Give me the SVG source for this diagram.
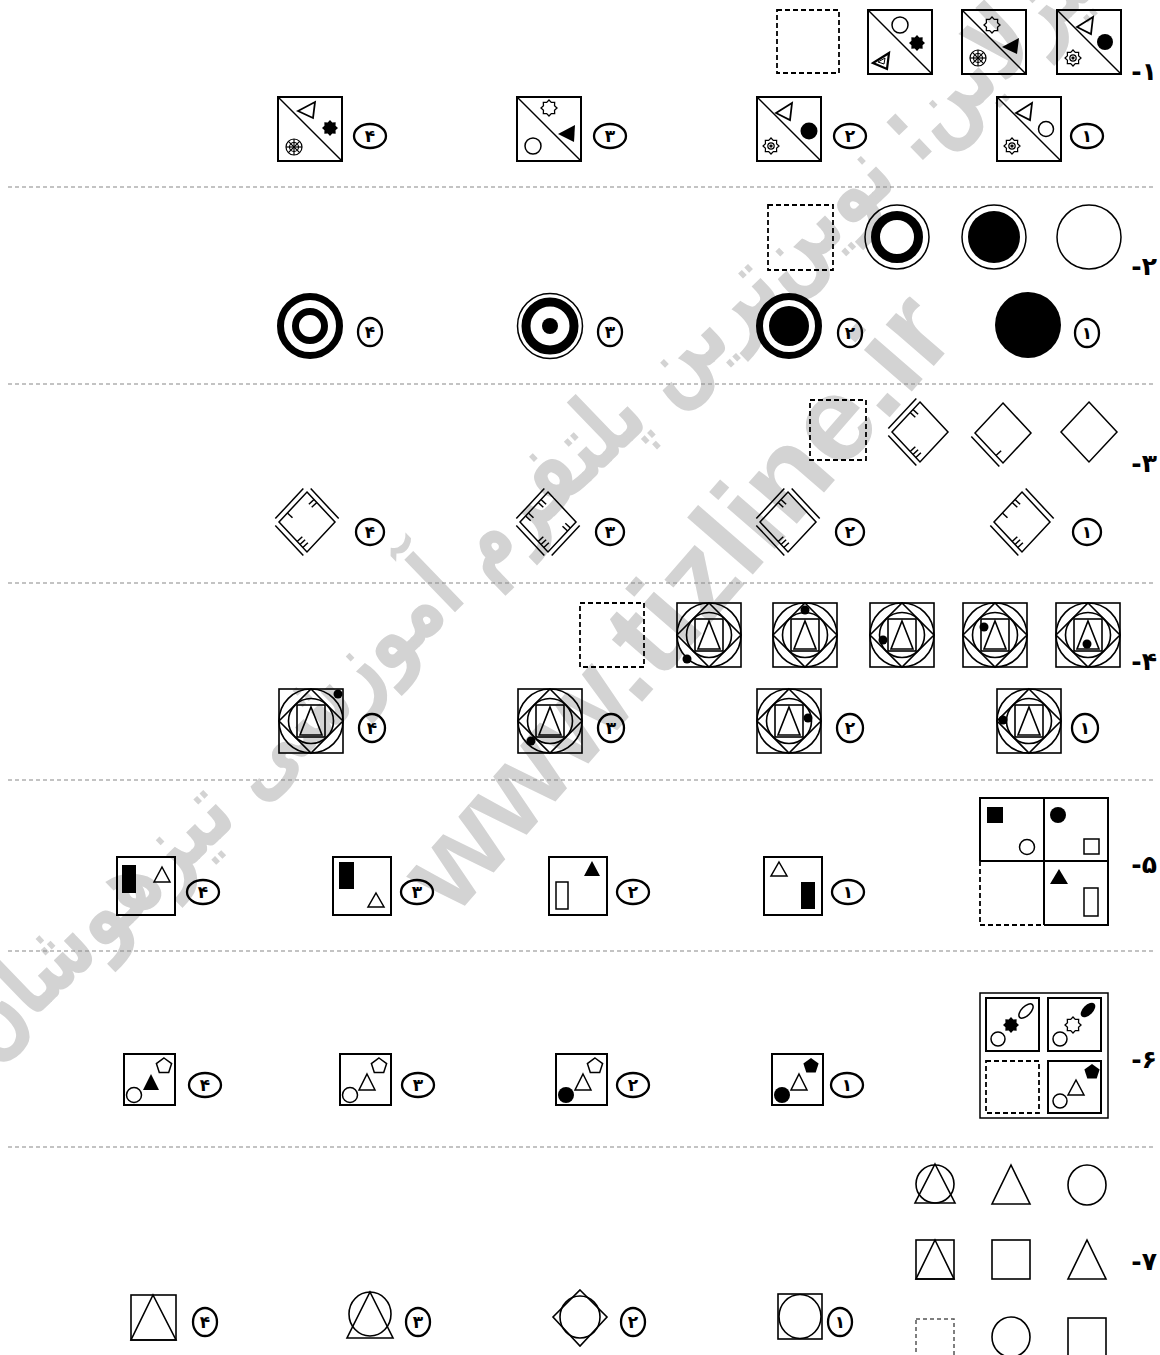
<svg xmlns="http://www.w3.org/2000/svg" xmlns:xlink="http://www.w3.org/1999/xlink" width="1160" height="1355" viewBox="0 0 1160 1355">
<style>
.ln{fill:none;stroke:#000;stroke-width:2}
.th{fill:none;stroke:#000;stroke-width:1.5}
.bk{fill:#000;stroke:none}
.dash{fill:none;stroke:#000;stroke-width:1.8;stroke-dasharray:5 3}
.sep{fill:none;stroke:#888;stroke-width:1.2;stroke-dasharray:4 3}
.lab ellipse{fill:none;stroke:#000;stroke-width:2.3}
.lab text{font-family:"DejaVu Sans",sans-serif;font-size:17px;font-weight:bold;text-anchor:middle}
.num{font-family:"DejaVu Sans",sans-serif;font-size:25px;font-weight:bold;text-anchor:end}
.wm{font-family:"DejaVu Sans",sans-serif;font-weight:bold;fill:#d3d3d3;text-anchor:middle}
.wm2{font-family:"Liberation Sans",sans-serif;font-weight:bold;fill:#d3d3d3;text-anchor:middle}
.r7{fill:none;stroke:#000;stroke-width:1.6}
</style>
<defs>
<path id="star" d="M8,0 L5.54,2.3 L5.66,5.66 L2.3,5.54 L0,8 L-2.3,5.54 L-5.66,5.66 L-5.54,2.3 L-8,0 L-5.54,-2.3 L-5.66,-5.66 L-2.3,-5.54 L0,-8 L2.3,-5.54 L5.66,-5.66 L5.54,-2.3 Z"/>
<polygon id="pent" points="0,-8 7.61,-2.47 4.7,6.47 -4.7,6.47 -7.61,-2.47"/>
<g id="gear" fill="none" stroke="#000" stroke-width="1.2">
<use href="#star"/>
<circle r="3.2"/>
<circle r="1" fill="#000"/>
</g>
<g id="wheel" fill="none" stroke="#000" stroke-width="1.2">
<circle r="8"/>
<circle r="4.5"/>
<line x1="-8" y1="0" x2="8" y2="0"/>
<line x1="0" y1="-8" x2="0" y2="8"/>
<line x1="-5.6" y1="-5.6" x2="5.6" y2="5.6"/>
<line x1="-5.6" y1="5.6" x2="5.6" y2="-5.6"/>
</g>
<polygon id="dia" points="0,-30 28,0 0,30 -28,0" fill="none" stroke="#000" stroke-width="1.5"/>
<g id="nest" fill="none" stroke="#000" stroke-width="1.6">
<rect x="-32" y="-32" width="64" height="64"/>
<circle r="32"/>
<polygon points="0,-32 32,0 0,32 -32,0"/>
<circle r="22.5"/>
<rect x="-14" y="-16" width="28" height="32"/>
<polygon points="0,-14 11,14 -11,14"/>
</g>
</defs>

<g id="watermark">
<text class="wm" font-size="96" transform="translate(528,497) rotate(-44)" y="32" textLength="1560" lengthAdjust="spacingAndGlyphs">تیزلاین: نوین‌ترین پلتفرم آموزشی تیزهوشان</text>
<text class="wm2" font-size="120" transform="translate(675,600) rotate(-49)" y="42" textLength="770" lengthAdjust="spacingAndGlyphs">www.tizline.ir</text>
</g>

<g id="separators">
<line class="sep" x1="8" y1="187" x2="1155" y2="187"/>
<line class="sep" x1="8" y1="384" x2="1155" y2="384"/>
<line class="sep" x1="8" y1="583" x2="1155" y2="583"/>
<line class="sep" x1="8" y1="780" x2="1155" y2="780"/>
<line class="sep" x1="8" y1="951" x2="1155" y2="951"/>
<line class="sep" x1="8" y1="1147" x2="1155" y2="1147"/>
</g>

<!-- Row 1 -->
<text class="num" x="1157" y="80">-۱</text>
<g id="q1-a">
<rect class="ln" x="1057" y="10" width="64" height="64"/>
<line class="th" x1="1057" y1="10" x2="1121" y2="74"/>
<polygon points="1077,27 1093,17 1091,34" fill="none" stroke="#000" stroke-width="1.8"/>
<circle class="bk" cx="1105" cy="42" r="8"/>
<use href="#gear" x="1073" y="58"/>
</g>
<g id="q1-b">
<rect class="ln" x="962" y="10" width="64" height="64"/>
<line class="th" x1="962" y1="10" x2="1026" y2="74"/>
<use href="#star" x="992" y="25" fill="none" stroke="#000" stroke-width="1.3"/>
<polygon class="bk" points="1002,47 1019,38 1017,54"/>
<use href="#wheel" x="978" y="58"/>
</g>
<g id="q1-c">
<rect class="ln" x="868" y="10" width="64" height="64"/>
<line class="th" x1="868" y1="10" x2="932" y2="74"/>
<circle class="th" cx="900" cy="25" r="8"/>
<use href="#star" x="917" y="43" fill="#000"/>
<polygon points="873,63 889,53 887,69" fill="none" stroke="#000" stroke-width="2.2"/>
<polygon points="878,62 885,58 884,64" fill="none" stroke="#000" stroke-width="1"/>
</g>
<g id="q1-blank"><rect class="dash" x="777" y="10" width="62" height="63"/></g>

<g id="q1-o1">
<rect class="ln" x="997" y="97" width="64" height="64"/>
<line class="th" x1="997" y1="97" x2="1061" y2="161"/>
<polygon points="1016,113 1032,103 1030,120" fill="none" stroke="#000" stroke-width="1.8"/>
<circle class="th" cx="1046" cy="129" r="7.5"/>
<use href="#gear" x="1012" y="146"/>
</g>
<g id="q1-o2">
<rect class="ln" x="757" y="97" width="64" height="64"/>
<line class="th" x1="757" y1="97" x2="821" y2="161"/>
<polygon points="776,113 792,103 790,120" fill="none" stroke="#000" stroke-width="1.8"/>
<circle class="bk" cx="809" cy="131" r="8.5"/>
<use href="#gear" x="771" y="146"/>
</g>
<g id="q1-o3">
<rect class="ln" x="517" y="97" width="64" height="64"/>
<line class="th" x1="517" y1="97" x2="581" y2="161"/>
<use href="#star" x="549" y="108" fill="none" stroke="#000" stroke-width="1.3"/>
<polygon class="bk" points="558,134 575,125 574,142"/>
<circle class="th" cx="533" cy="146" r="8"/>
</g>
<g id="q1-o4">
<rect class="ln" x="278" y="97" width="64" height="64"/>
<line class="th" x1="278" y1="97" x2="342" y2="161"/>
<polygon points="298,111 315,102 313,118" fill="none" stroke="#000" stroke-width="1.8"/>
<use href="#star" x="330" y="128" fill="#000"/>
<use href="#wheel" x="294" y="147"/>
</g>
<g class="lab" transform="translate(1087,136)"><ellipse rx="16" ry="12"/><text y="6">۱</text></g>
<g class="lab" transform="translate(850,136)"><ellipse rx="16" ry="12"/><text y="6">۲</text></g>
<g class="lab" transform="translate(610,136)"><ellipse rx="16" ry="12"/><text y="6">۳</text></g>
<g class="lab" transform="translate(370,136)"><ellipse rx="16" ry="12"/><text y="6">۴</text></g>

<!-- Row 2 -->
<text class="num" x="1157" y="275">-۲</text>
<g id="q2-a"><circle class="th" cx="1089" cy="237" r="32"/></g>
<g id="q2-b"><circle class="th" cx="994" cy="237" r="32"/><circle class="bk" cx="994" cy="237" r="26"/></g>
<g id="q2-c"><circle class="th" cx="897" cy="237" r="32"/><circle cx="897" cy="237" r="21.5" fill="none" stroke="#000" stroke-width="9"/></g>
<g id="q2-blank"><rect class="dash" x="768" y="205" width="65" height="65"/></g>
<g id="q2-o1"><circle class="bk" cx="1028" cy="325" r="33"/></g>
<g id="q2-o2"><circle cx="789" cy="326" r="29.5" fill="none" stroke="#000" stroke-width="7"/><circle class="bk" cx="789" cy="326" r="20"/></g>
<g id="q2-o3"><circle class="th" cx="550" cy="326" r="32.5"/><circle cx="550" cy="326" r="24" fill="none" stroke="#000" stroke-width="9"/><circle class="bk" cx="550" cy="326" r="8"/></g>
<g id="q2-o4"><circle cx="310" cy="326" r="29.5" fill="none" stroke="#000" stroke-width="7"/><circle cx="310" cy="326" r="14.5" fill="none" stroke="#000" stroke-width="7"/></g>
<g class="lab" transform="translate(1087,333)"><ellipse rx="12" ry="14"/><text y="6">۱</text></g>
<g class="lab" transform="translate(850,333)"><ellipse rx="12" ry="14"/><text y="6">۲</text></g>
<g class="lab" transform="translate(610,332)"><ellipse rx="12" ry="14"/><text y="6">۳</text></g>
<g class="lab" transform="translate(370,332)"><ellipse rx="12" ry="14"/><text y="6">۴</text></g>

<!-- Row 3 -->
<text class="num" x="1157" y="472">-۳</text>
<g id="q3-a" transform="translate(1089,432)"><use href="#dia"/></g>
<g id="q3-b" transform="translate(1003,433)" fill="none" stroke="#000" stroke-width="1.5">
<use href="#dia"/>
<line x1="-3.7" y1="33.4" x2="-31.7" y2="3.4"/>
<line x1="-7" y1="22.5" x2="-1.9" y2="17.7"/>
</g>
<g id="q3-c" transform="translate(920,432)" fill="none" stroke="#000" stroke-width="1.5">
<use href="#dia"/>
<line x1="-31.7" y1="-3.4" x2="-3.7" y2="-33.4"/>
<line x1="-3.7" y1="33.4" x2="-31.7" y2="3.4"/>
<line x1="-7" y1="-22.5" x2="-1.9" y2="-17.7"/>
<line x1="-9.8" y1="-19.5" x2="-4.7" y2="-14.7"/>
<line x1="-4.2" y1="25.5" x2="0.9" y2="20.7"/>
<line x1="-7" y1="22.5" x2="-1.9" y2="17.7"/>
<line x1="-9.8" y1="19.5" x2="-4.7" y2="14.7"/>
</g>
<g id="q3-blank"><rect class="dash" x="810" y="400" width="56" height="60"/></g>

<g id="q3-o1" transform="translate(1022,522)" fill="none" stroke="#000" stroke-width="1.5">
<use href="#dia"/>
<line x1="3.7" y1="-33.4" x2="31.7" y2="-3.4"/>
<line x1="-3.7" y1="33.4" x2="-31.7" y2="3.4"/>
<line x1="-7" y1="-22.5" x2="-1.9" y2="-17.7"/>
<line x1="-9.8" y1="-19.5" x2="-4.7" y2="-14.7"/>
<line x1="-19.6" y1="-9" x2="-14.5" y2="-4.2"/>
<line x1="-4.2" y1="25.5" x2="0.9" y2="20.7"/>
<line x1="-7" y1="22.5" x2="-1.9" y2="17.7"/>
<line x1="-9.8" y1="19.5" x2="-4.7" y2="14.7"/>
</g>
<g id="q3-o2" transform="translate(788,522)" fill="none" stroke="#000" stroke-width="1.5">
<use href="#dia"/>
<line x1="3.7" y1="-33.4" x2="31.7" y2="-3.4"/>
<line x1="-3.7" y1="33.4" x2="-31.7" y2="3.4"/>
<line x1="-31.7" y1="-3.4" x2="-3.7" y2="-33.4"/>
<line x1="-7" y1="-22.5" x2="-1.9" y2="-17.7"/>
<line x1="-9.8" y1="-19.5" x2="-4.7" y2="-14.7"/>
<line x1="-4.2" y1="25.5" x2="0.9" y2="20.7"/>
<line x1="-7" y1="22.5" x2="-1.9" y2="17.7"/>
<line x1="-9.8" y1="19.5" x2="-4.7" y2="14.7"/>
</g>
<g id="q3-o3" transform="translate(548,522)" fill="none" stroke="#000" stroke-width="1.5">
<use href="#dia"/>
<line x1="-31.7" y1="-3.4" x2="-3.7" y2="-33.4"/>
<line x1="-3.7" y1="33.4" x2="-31.7" y2="3.4"/>
<line x1="31.7" y1="3.4" x2="3.7" y2="33.4"/>
<line x1="-7" y1="-22.5" x2="-1.9" y2="-17.7"/>
<line x1="-9.8" y1="-19.5" x2="-4.7" y2="-14.7"/>
<line x1="-19.6" y1="-9" x2="-14.5" y2="-4.2"/>
<line x1="-22.4" y1="-6" x2="-17.3" y2="-1.2"/>
<line x1="-4.2" y1="25.5" x2="0.9" y2="20.7"/>
<line x1="-7" y1="22.5" x2="-1.9" y2="17.7"/>
<line x1="-9.8" y1="19.5" x2="-4.7" y2="14.7"/>
<line x1="22.4" y1="6" x2="17.3" y2="1.2"/>
<line x1="19.6" y1="9" x2="14.5" y2="4.2"/>
</g>
<g id="q3-o4" transform="translate(307,522)" fill="none" stroke="#000" stroke-width="1.5">
<use href="#dia"/>
<line x1="-31.7" y1="-3.4" x2="-3.7" y2="-33.4"/>
<line x1="3.7" y1="-33.4" x2="31.7" y2="-3.4"/>
<line x1="-3.7" y1="33.4" x2="-31.7" y2="3.4"/>
<line x1="7" y1="-22.5" x2="1.9" y2="-17.7"/>
<line x1="9.8" y1="-19.5" x2="4.7" y2="-14.7"/>
<line x1="-19.6" y1="-9" x2="-14.5" y2="-4.2"/>
<line x1="-4.2" y1="25.5" x2="0.9" y2="20.7"/>
<line x1="-7" y1="22.5" x2="-1.9" y2="17.7"/>
<line x1="-9.8" y1="19.5" x2="-4.7" y2="14.7"/>
</g>
<g class="lab" transform="translate(1087,532)"><ellipse rx="14" ry="13"/><text y="6">۱</text></g>
<g class="lab" transform="translate(850,532)"><ellipse rx="14" ry="13"/><text y="6">۲</text></g>
<g class="lab" transform="translate(610,532)"><ellipse rx="14" ry="13"/><text y="6">۳</text></g>
<g class="lab" transform="translate(370,532)"><ellipse rx="14" ry="13"/><text y="6">۴</text></g>

<!-- Row 4 -->
<text class="num" x="1157" y="670">-۴</text>
<g id="q4-a"><use href="#nest" x="1088" y="635"/><circle class="bk" cx="1087" cy="644" r="4.5"/></g>
<g id="q4-b"><use href="#nest" x="995" y="635"/><circle class="bk" cx="984" cy="627" r="4.5"/></g>
<g id="q4-c"><use href="#nest" x="902" y="635"/><circle class="bk" cx="883" cy="640" r="4.5"/></g>
<g id="q4-d"><use href="#nest" x="805" y="635"/><circle class="bk" cx="805" cy="610" r="4.5"/></g>
<g id="q4-e"><use href="#nest" x="709" y="635"/><circle class="bk" cx="687" cy="659" r="4.5"/></g>
<g id="q4-blank"><rect class="dash" x="580" y="603" width="64" height="64"/></g>
<g id="q4-o1"><use href="#nest" x="1029" y="721"/><circle class="bk" cx="1003" cy="720" r="4.5"/></g>
<g id="q4-o2"><use href="#nest" x="789" y="721"/><circle class="bk" cx="808" cy="718" r="4.5"/></g>
<g id="q4-o3"><use href="#nest" x="550" y="721"/><circle class="bk" cx="531" cy="741" r="4.5"/></g>
<g id="q4-o4"><use href="#nest" x="311" y="721"/><circle class="bk" cx="338" cy="694" r="4.5"/></g>
<g class="lab" transform="translate(1085,728)"><ellipse rx="13" ry="14"/><text y="6">۱</text></g>
<g class="lab" transform="translate(850,728)"><ellipse rx="13" ry="14"/><text y="6">۲</text></g>
<g class="lab" transform="translate(611,728)"><ellipse rx="13" ry="14"/><text y="6">۳</text></g>
<g class="lab" transform="translate(372,728)"><ellipse rx="13" ry="14"/><text y="6">۴</text></g>

<!-- Row 5 -->
<text class="num" x="1157" y="873">-۵</text>
<g id="q5-grid">
<path class="ln" d="M980,861 L980,798 L1108,798 L1108,925 L1044,925 M1044,798 L1044,925 M980,861 L1108,861"/>
<path class="dash" d="M980,861 L980,925 L1044,925"/>
<rect class="bk" x="987" y="807" width="16" height="16"/>
<circle class="th" cx="1027" cy="847" r="7.5"/>
<circle class="bk" cx="1058" cy="815" r="8"/>
<rect class="th" x="1084" y="839" width="15" height="15"/>
<polygon class="bk" points="1059,869 1068,884 1050,884"/>
<rect class="th" x="1084" y="888" width="14" height="28"/>
</g>
<g id="q5-o1">
<rect class="ln" x="764" y="857" width="58" height="58"/>
<polygon class="th" points="779,862 787,876 771,876"/>
<rect class="bk" x="801" y="882" width="14" height="27"/>
</g>
<g id="q5-o2">
<rect class="ln" x="549" y="857" width="58" height="58"/>
<polygon class="bk" points="592,861 600,876 584,876"/>
<rect class="th" x="556" y="882" width="12" height="27"/>
</g>
<g id="q5-o3">
<rect class="ln" x="333" y="857" width="58" height="58"/>
<rect class="bk" x="339" y="862" width="15" height="27"/>
<polygon class="th" points="376,893 384,907 368,907"/>
</g>
<g id="q5-o4">
<rect class="ln" x="117" y="857" width="58" height="58"/>
<rect class="bk" x="122" y="865" width="14" height="28"/>
<polygon class="th" points="162,867 170,882 154,882"/>
</g>
<g class="lab" transform="translate(848,892)"><ellipse rx="16" ry="12"/><text y="6">۱</text></g>
<g class="lab" transform="translate(633,892)"><ellipse rx="16" ry="12"/><text y="6">۲</text></g>
<g class="lab" transform="translate(417,892)"><ellipse rx="16" ry="12"/><text y="6">۳</text></g>
<g class="lab" transform="translate(203,892)"><ellipse rx="16" ry="12"/><text y="6">۴</text></g>

<!-- Row 6 -->
<text class="num" x="1157" y="1068">-۶</text>
<g id="q6-grid">
<rect class="th" x="980" y="993" width="128" height="125"/>
<rect class="ln" x="986" y="998" width="53" height="53"/>
<rect class="ln" x="1048" y="998" width="53" height="53"/>
<rect class="dash" x="986" y="1061" width="53" height="52"/>
<rect class="ln" x="1048" y="1061" width="53" height="52"/>
<circle class="th" cx="998" cy="1039" r="7"/>
<use href="#star" x="1011" y="1025" fill="#000"/>
<ellipse class="th" cx="1026" cy="1011" rx="9" ry="4.5" transform="rotate(-45 1026 1011)"/>
<circle class="th" cx="1060" cy="1039" r="7"/>
<use href="#star" x="1073" y="1025" fill="none" stroke="#000" stroke-width="1.3"/>
<ellipse class="bk" cx="1088" cy="1010" rx="9" ry="5" transform="rotate(-45 1088 1010)"/>
<circle class="th" cx="1060" cy="1101" r="7"/>
<polygon class="th" points="1076,1080 1084,1095 1068,1095"/>
<use href="#pent" x="1092" y="1072" fill="#000"/>
</g>
<g id="q6-o1">
<rect class="ln" x="772" y="1054" width="51" height="51"/>
<circle class="bk" cx="782" cy="1095" r="8"/>
<polygon class="th" points="799,1074 807,1090 791,1090"/>
<use href="#pent" x="811" y="1066" fill="#000"/>
</g>
<g id="q6-o2">
<rect class="ln" x="556" y="1054" width="51" height="51"/>
<circle class="bk" cx="566" cy="1095" r="8"/>
<polygon class="th" points="583,1074 591,1090 575,1090"/>
<use href="#pent" x="595" y="1066" fill="none" stroke="#000" stroke-width="1.5"/>
</g>
<g id="q6-o3">
<rect class="ln" x="340" y="1054" width="51" height="51"/>
<circle class="th" cx="350" cy="1095" r="7.5"/>
<polygon class="th" points="367,1074 375,1090 359,1090"/>
<use href="#pent" x="379" y="1066" fill="none" stroke="#000" stroke-width="1.5"/>
</g>
<g id="q6-o4">
<rect class="ln" x="124" y="1054" width="51" height="51"/>
<circle class="th" cx="134" cy="1095" r="7.5"/>
<polygon class="bk" points="151,1074 159,1090 143,1090"/>
<use href="#pent" x="164" y="1066" fill="none" stroke="#000" stroke-width="1.5"/>
</g>
<g class="lab" transform="translate(847,1085)"><ellipse rx="16" ry="12"/><text y="6">۱</text></g>
<g class="lab" transform="translate(633,1085)"><ellipse rx="16" ry="12"/><text y="6">۲</text></g>
<g class="lab" transform="translate(418,1085)"><ellipse rx="16" ry="12"/><text y="6">۳</text></g>
<g class="lab" transform="translate(205,1085)"><ellipse rx="16" ry="12"/><text y="6">۴</text></g>

<!-- Row 7 -->
<text class="num" x="1157" y="1270">-۷</text>
<g id="q7-a1"><circle class="r7" cx="935" cy="1184" r="19"/><polygon class="r7" points="935,1164 955,1203 915,1203"/></g>
<g id="q7-a2"><polygon class="r7" points="1011,1165 1030,1204 992,1204"/></g>
<g id="q7-a3"><ellipse class="r7" cx="1087" cy="1185" rx="19" ry="20"/></g>
<g id="q7-b1"><rect class="r7" x="916" y="1240" width="38" height="39"/><polygon class="r7" points="935,1240 954,1279 916,1279"/></g>
<g id="q7-b2"><rect class="r7" x="992" y="1240" width="38" height="39"/></g>
<g id="q7-b3"><polygon class="r7" points="1087,1240 1106,1279 1068,1279"/></g>
<g id="q7-c1"><rect x="916" y="1319" width="38" height="38" fill="none" stroke="#555" stroke-width="1.5" stroke-dasharray="4 3"/></g>
<g id="q7-c2"><ellipse class="r7" cx="1011" cy="1337" rx="19" ry="20"/></g>
<g id="q7-c3"><rect class="r7" x="1068" y="1318" width="38" height="39"/></g>
<g id="q7-o1"><rect class="r7" x="778" y="1294" width="44" height="45"/><ellipse class="r7" cx="800" cy="1316.5" rx="21" ry="22"/></g>
<g id="q7-o2"><polygon class="r7" points="580,1290 607,1317 580,1346 553,1317"/><ellipse class="r7" cx="580" cy="1317" rx="20" ry="21"/></g>
<g id="q7-o3"><ellipse class="r7" cx="370" cy="1314" rx="21" ry="22"/><polygon class="r7" points="370,1292 393,1338 347,1338"/></g>
<g id="q7-o4"><rect class="r7" x="131" y="1295" width="45" height="45"/><polygon class="r7" points="153,1295 176,1340 131,1340"/></g>
<g class="lab" transform="translate(840,1322)"><ellipse rx="12" ry="14"/><text y="6">۱</text></g>
<g class="lab" transform="translate(633,1322)"><ellipse rx="12" ry="14"/><text y="6">۲</text></g>
<g class="lab" transform="translate(418,1322)"><ellipse rx="12" ry="14"/><text y="6">۳</text></g>
<g class="lab" transform="translate(205,1322)"><ellipse rx="12" ry="14"/><text y="6">۴</text></g>
</svg>
